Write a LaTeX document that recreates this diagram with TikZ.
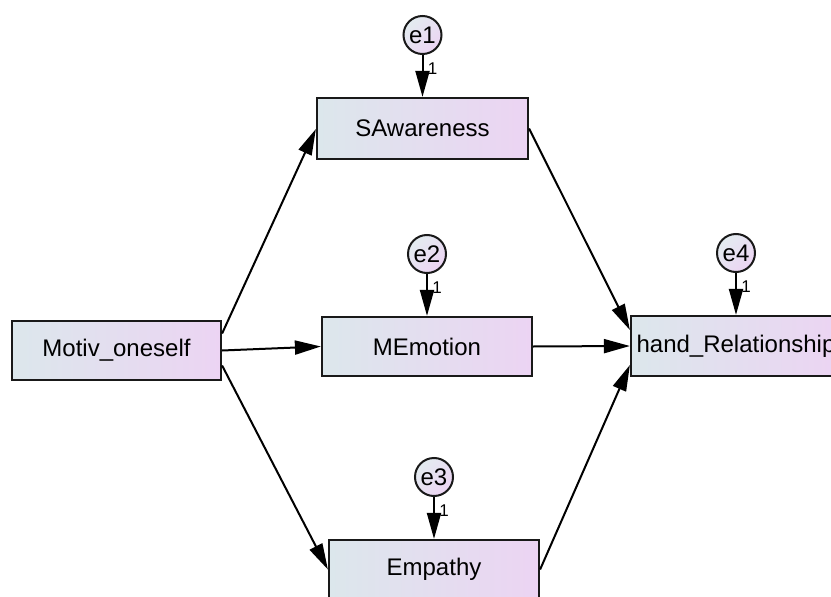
\documentclass[tikz,border=0pt]{standalone}
\usepackage{fontspec}
\setmainfont{Liberation Sans}
\usetikzlibrary{arrows.meta,calc}
\definecolor{gl}{RGB}{220,231,236}
\definecolor{gr}{RGB}{236,212,243}
\definecolor{bd}{RGB}{25,25,25}
\tikzset{
  var/.style={draw=bd, line width=2.2pt, left color=gl, right color=gr,
    minimum width=210pt, minimum height=59pt, inner sep=0pt,
    font=\fontsize{24}{28}\selectfont},
  err/.style={circle, draw=bd, line width=2pt, left color=gl!80!white, right color=gr,
    shading angle=45, minimum size=38pt, inner sep=0pt,
    font=\fontsize{24}{28}\selectfont},
  onelbl/.style={font=\fontsize{17}{19}\selectfont, inner sep=0pt},
  arr/.style={line width=2pt, draw=black, -{Triangle[length=26pt,width=14pt]}}
}
\begin{document}
\begin{tikzpicture}[x=1pt,y=-1pt]
\useasboundingbox (0,0) rectangle (831,597);
\clip (0,0) rectangle (831,597);
\fill[white] (0,0) rectangle (831,597);
% observed variables
\node[var, minimum width=209pt] (motiv) at (116.5,350.5) {Motiv\_oneself};
\node[var, minimum width=211pt, minimum height=61pt] (saw) at (422.5,128.5) {SAwareness};
\node[var] (mem) at (427,346.5) {MEmotion};
\node[var] (emp) at (434,569.5) {Empathy};
\node[var, minimum height=60pt] (hand) at (736,346) {hand\_Relationship};
% error terms
\node[err] (e1) at (422.5,35) {e1};
\node[err] (e2) at (427,254) {e2};
\node[err] (e3) at (434,477) {e3};
\node[err] (e4) at (736,253) {e4};
% error arrows
\draw[arr] (e1) -- (saw);
\draw[arr] (e2) -- (mem);
\draw[arr] (e3) -- (emp);
\draw[arr] (e4) -- (hand);
\node[onelbl] (l1) at ([xshift=10pt,yshift=-14pt]e1.south) {1};
\node[onelbl] (l2) at ([xshift=10pt,yshift=-14pt]e2.south) {1};
\node[onelbl] (l3) at ([xshift=10pt,yshift=-14pt]e3.south) {1};
\node[onelbl] (l4) at ([xshift=10pt,yshift=-14pt]e4.south) {1};
% structural paths
\draw[arr] ([yshift=17pt]motiv.east) -- ([yshift=-0.5pt]saw.west);
\draw[arr] (motiv.east) -- (mem.west);
\draw[arr] ([yshift=-15pt]motiv.east) -- (emp.west);
\draw[arr] (saw.east) -- ([yshift=16pt]hand.west);
\draw[arr] (mem.east) -- (hand.west);
\draw[arr] (emp.east) -- ([yshift=-19pt]hand.west);
\end{tikzpicture}
\end{document}
